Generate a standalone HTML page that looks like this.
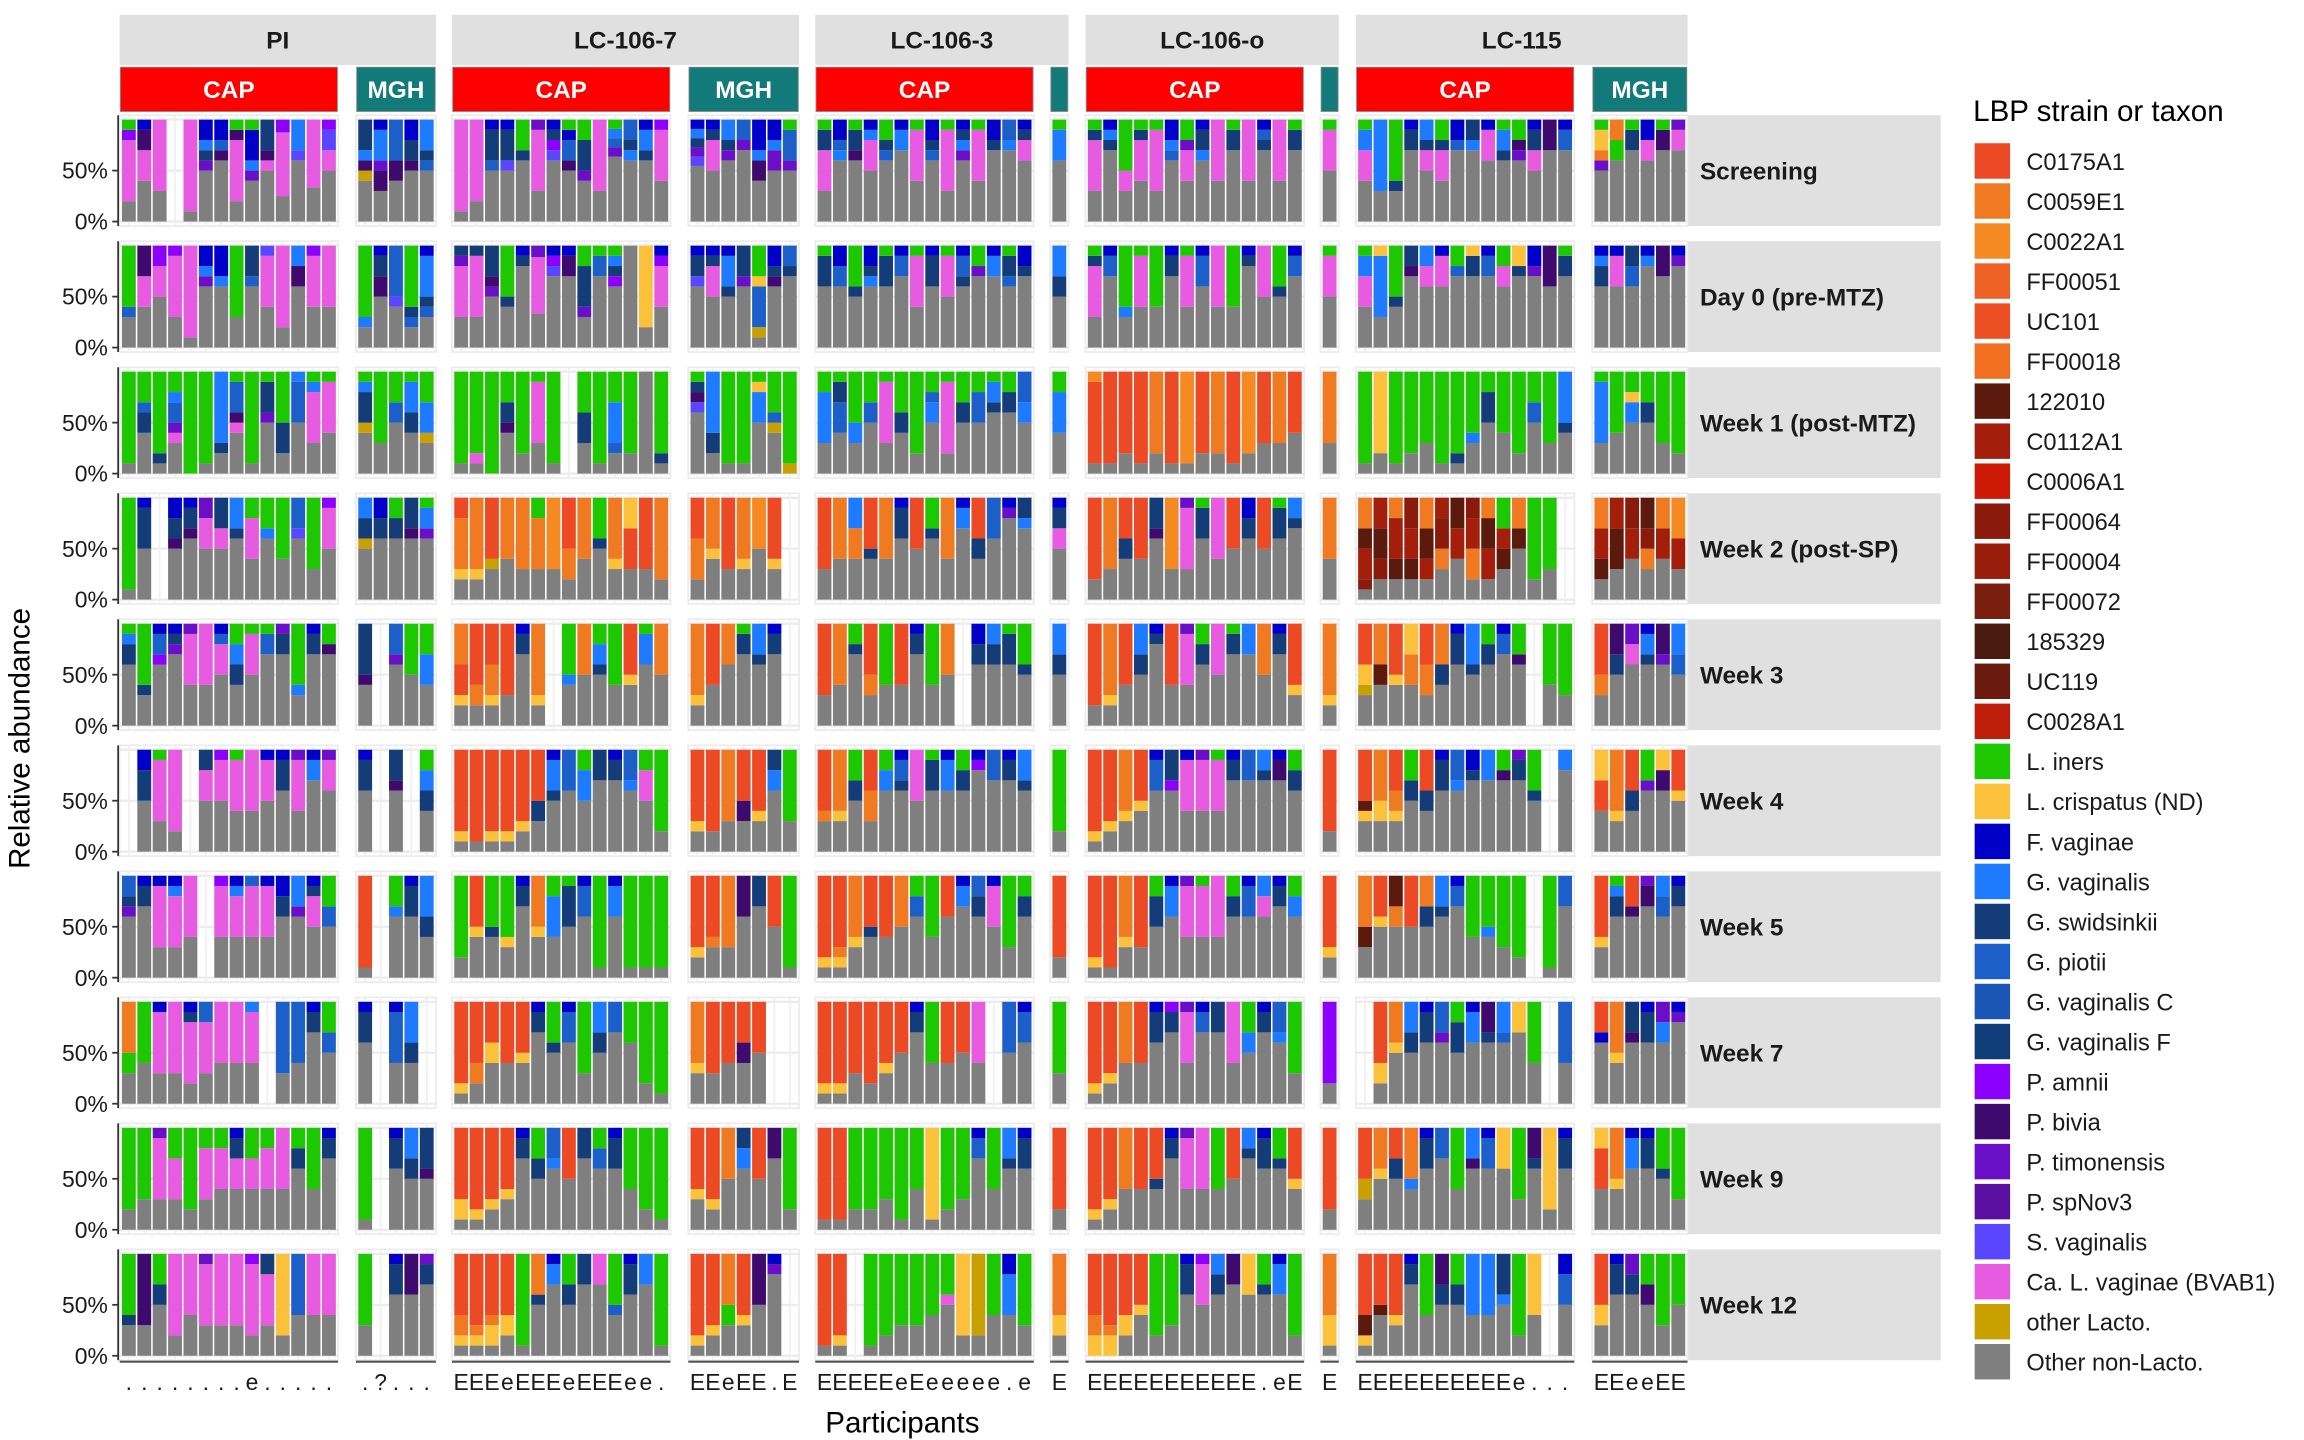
<!DOCTYPE html>
<html><head><meta charset="utf-8"><title>LBP strain relative abundance</title>
<style>
html,body{margin:0;padding:0;background:#fff;}
svg{display:block;font-family:"Liberation Sans",Arial,sans-serif;}
</style></head>
<body>
<svg id="chart" width="2304" height="1440" viewBox="0 0 1560 975" preserveAspectRatio="none" xmlns="http://www.w3.org/2000/svg">
<rect width="1560" height="975" fill="#fff"/>
<g id="panels"></g>
<g id="strips"></g>
<g id="legend"></g>
<text x="20" y="500" transform="rotate(-90 20 500)" text-anchor="middle" font-size="20" fill="#000">Relative abundance</text>
<text x="611" y="970" text-anchor="middle" font-size="20" fill="#000">Participants</text>
</svg>
<script>
// ---- data ----
const timepoints = ["Screening","Day 0 (pre-MTZ)","Week 1 (post-MTZ)","Week 2 (post-SP)","Week 3","Week 4","Week 5","Week 7","Week 9","Week 12"];
const groups = ["PI","LC-106-7","LC-106-3","LC-106-o","LC-115"];
const sites = ["CAP","MGH","CAP","MGH","CAP","MGH","CAP","MGH","CAP","MGH"];
const barCounts = [14,5,14,7,14,1,14,1,14,6];
const participantLabels = ["........e.....",".?...","EEEeEEEeEEEee.","EEeEE.E","EEEEEeEeeeee.e","E","EEEEEEEEEEE.eE","E","EEEEEEEEEEe...","EEeeEE"];
const legendNames = ["C0175A1","C0059E1","C0022A1","FF00051","UC101","FF00018","122010","C0112A1","C0006A1","FF00064","FF00004","FF00072","185329","UC119","C0028A1","L. iners","L. crispatus (ND)","F. vaginae","G. vaginalis","G. swidsinkii","G. piotii","G. vaginalis C","G. vaginalis F","P. amnii","P. bivia","P. timonensis","P. spNov3","S. vaginalis","Ca. L. vaginae (BVAB1)","other Lacto.","Other non-Lacto."];
const legendColors = ["#EB4A24","#F07A22","#F58A22","#EE6124","#EC5022","#F07020","#5C1A0C","#A41E0C","#CC1A06","#8A1A0C","#9A1C0A","#7A1E10","#4A1A10","#6A1A0E","#BC1E0A","#1EC800","#FBC13A","#0000C8","#1E7BFF","#133C78","#1C5FC8","#1A56B4","#103C7A","#8C00FF","#3E0A6E","#6A0FC8","#5A0FA0","#5A46FF","#E65BE0","#C8A000","#7F7F7F"];
// letter codes -> taxon
const taxonCodes = {r:"C0175A1",e:"C0059E1",c:"C0022A1",w:"122010",x:"C0112A1",z:"FF00064",g:"L. iners",y:"L. crispatus (ND)",f:"F. vaginae",b:"G. vaginalis",n:"G. swidsinkii",m:"G. piotii",v:"P. amnii",d:"P. bivia",t:"P. timonensis",s:"S. vaginalis",p:"Ca. L. vaginae (BVAB1)",o:"other Lacto.",k:"Other non-Lacto."};
// composition per row, per panel: bars top->bottom, segment letter + tenths
const row0 = ["g1v1p6k2 f1d2p3k4 p7k3 - p9k1 f2b1n1t1k5 f2m1d1k6 g1d1p6k2 g1f3b1t1k4 n3d1p1k5 v1p5k2 b3s1k6 p6k3 v1s2p2k5","n3b1d1o1k4 f1b3t1d2k3 m4d2k4 f2n2d1k5 b3n1m1k5","p9k1 p8k2 f1n3m1k5 f1n3s1k5 g3n1k6 t1p6k3 f1n1v1s1k6 g1f1m2d1k5 g2n3t1k4 p7k3 g1b1m1t1k7 m2n1b1k6 f1b2n1k6 v1p5k4","f1b1n1t1s1k6 f1n1p3k5 b2n1t1k6 m2t1k7 f3b1d2k4 f2b1t2k5 g1m3t1k5","g1n2p4k3 f2m1b1k6 g1n2d1k6 f1b1p3k5 g2n1m1k6 f1b2k7 g1p5k4 f2n1m1k6 g1p6k3 f1n1b1t1k6 g1p5k4 f2n1k7 m2b1k7 f1n1p2k6","g1b3k6","g1n1p5k3 f1b1n1k7 g5p2k3 g1n1p4k4 g1p6k3 f2b1m1k6 g2t1p3k4 f1n2b1k6 p6k4 g1n2k7 p6k4 f1m1n1k7 p6k4 g1n2k7","g1p4k5","g1b2p3k4 b7k3 g6n1k3 f1n2k7 b2n1p2k5 g2n1p3k4 f2m1k7 n2b1k7 f1p3k6 g1b2n1k6 g2d1t1k6 f1n2p2k5 d3k7 f1m2k7","g1y2e1t1k5 e2g2k6 g1n2k7 f2p2k6 g1d2k7 t1p2k7"];
const row1 = ["g6m1k3 d3p3k4 v2p3k5 v1p6k3 p9k1 f2b1t1k6 f3b1k6 g7k3 n3m1k6 s1p5k4 p8k2 b2d2k6 v1p5k4 p6k4","g7b1k2 f1n2d2k5 m5s1k4 g6n1m1k2 f1b4n1m1k3","n1t1p5k3 n1p6k3 n3d1t1k5 g5n1k4 f1n1k8 t1p5k3 f1v1s1k7 f1d2k7 g2n4t1k3 g1m2k7 g1b1n1v1k6 k10 y8k2 f1v1p4k4","f1n2s1k6 f1n1p3k5 f1b3n1k5 n3t1k6 g3y1m4o1k1 f2n1d1k6 m2n1k7","g1n3k6 f2m2k6 g4n1k5 f2n1b1k6 g1n3k6 f1m2k7 g1p5k4 f1n3k6 g1p4k5 f1m2n1k6 g2t1k7 f1b2k7 g1n2m1k6 f2n1k7","b3n2k5","g1n1p5k3 f1m2k7 g6b1k3 g1p5k4 g6k4 f1n2k7 g1p5k4 f1m3k6 p6k4 g6k4 f1n1k8 p5k5 g4n1k5 f1m2k7","g1p4k5","g1b2p3k4 y1b6k3 g5n1k4 n2d1k7 b2p2k6 f1p3k6 g2m1k7 y1n2k7 f1m2k7 g2p2k6 y2n1k7 f2t1k7 d4k6 g1n2k7","f1b1n2k6 f1p3k6 n2m2k6 f1b1k8 d3k7 f1t1k8"];
const row2 = ["g9k1 g3m1n2k4 g8n1k1 g2b1m2t1p1k3 g10 g9k1 b7n1k2 g1m3d1p1k4 g9k1 g1n3t1k5 g5n3k2 b1m4k5 g1b1p5k3 g1p5k4","g1b1n3o1k4 g7k3 g3m2k5 g1b3n2k4 g3b3o1k3","g9k1 g8p1k1 g10 g3n2d1k4 g8k2 g1p6k3 g9k1 - g4n3k3 g9k1 g3b4m1k2 g8k2 k10 g8n1k1","g1n1d1s1k6 b6n2k2 g9k1 g9k1 g1y1b3k5 g4m1o1k4 g9o1","g2b5k3 g1n2m3k4 g5b2k3 g3m2k5 g1p6k3 g4n2k4 g8k2 g2m1b2k5 g1p7k2 g3n2k5 g2m3k5 g1b2n1k6 g2n2k6 m3b2k5","g2b4k4","c1r8k1 r9k1 r8k2 r9k1 e8k2 r9k1 c9k1 r8k2 e8k2 r9k1 c8k2 r7k3 e7k3 r6k4","e7k3","g9k1 y8k2 g9k1 g8k2 g7k3 g9k1 g8n1k1 g6b1k3 g2n3k5 g6k4 g8k2 g3m2k5 g7k3 b5n1k4","g1b6k3 g6k4 g2y1b2k5 g3n2k5 g7k3 g8k2"];
const row3 = ["g9k1 f1n4k5 - f2n2d1k5 f1n2d1k6 t2p3k5 n3p2k5 b3n1k6 g2p4k4 g3b1k6 g6k4 m3s1k6 g7k3 v1p4k5","b2n2o1k5 f2n2k6 g2n2k6 n3d1k6 g1b2t1k6","r2e5y1k2 e7y1k2 r6o1k3 e6k4 e7k3 g2e5k3 c7k3 r5e3k2 e6k4 g4n1k5 e6y1k3 y3r4k3 r7k3 e8k2","r4e4k2 e5y1k4 r7k3 e6y1k3 c5k5 r6y1k3 -","r7k3 e6k4 b3e3k4 r5n1k4 e6k4 f1n3k6 r5k5 g3n1k6 e6k4 f1b2k7 r4n2k4 m4k6 f1t1k8 n2b1k7","f1n2p2k5","r8k2 e7k3 r4n2k4 r6k4 n3d1k6 c7k3 t1p6k3 g1n3k6 p6k4 r5k5 f2n2k6 r5k5 g1n3k6 b2n1k7","e6k4","e3w2x3z1k1 x3w3z2k2 e2x4w2k2 z3x3w2k2 e3w3x2k2 x2z3e2k3 w3x3k4 z2x3e3k2 e2w3x3k2 g3x2w2k3 e3w2k5 g8k2 g7k3 -","e3x3w2k2 x3w4k3 z3x3k4 w3z2e2k3 e3x3k4 c4x3k3"];
const row4 = ["g1b1n2k6 g6n1k3 f1m2v1k6 f1n1t1k7 t1p5k4 p6k4 f1m1p3k5 g2b2n2k4 g1p4k5 g1m2k7 t1n2k7 g6b1k3 f1n2k7 g2d1k7","n5d1k4 - m3t1k6 g5k5 g3b3k4","e4r3y1k2 r6e2k2 r4e3y1k2 r7k3 f1n2k7 e7y1k2 - g5b1k4 e5k5 g2b2n1k5 g6k4 r5y1k4 g1b3k6 e5k5","e7y1k2 r6k4 e4k6 g1n2k7 b3n1k6 f1n2k7 -","r7k3 e6k4 g2n1k7 r5e2k3 g6k4 r6k4 f1n2k7 g6k4 e5k5 - f2n2k6 b2n2k6 g1n3k6 g4n1k5","b3n2k5","r8k2 e7y1k2 r6k4 b3n2k5 f1n1k8 r6k4 t1p5k4 g2n2k6 p5k5 g1n2k7 b3k7 e5k5 f1n2k7 r6y1k3","e7y1k2","r4y2o1k3 e4w2k4 r5y1k4 y3e3k4 r4e3k3 e4n2k4 f1n3k6 b4n1k5 g2n2k6 f1m2k7 g3d1k6 - g6k4 g7k3","r5e2k3 d3n2k5 t2p2k6 f1b2n1k6 d3t1k6 b3m2k5"];
const row5 = ["- f2n3k5 g1p6k3 p8k2 - n2p3k5 v1p4k5 g1p5k4 p6k4 f1p4k5 f1n3k6 t1p5k4 f1b2k7 t1p3k6","f1n3k6 - n3d1k6 - g2b2n2k4","r8y1k1 r9k1 r8y1k1 r8y1k1 r7y1k2 r5n2k3 f1b3n1k5 m4k6 g2b3k5 n3k7 f1n2k7 m3b1k6 g2p3k5 g8k2","r7y1k2 r8k2 e7k3 r5d2k3 r6y1k3 n2b2k6 g7k3","r6e1k3 e6y1k3 g3n2k5 r4e3k3 g2b2k6 f1m2n1k6 p5k5 g1n3k6 f1b3k6 g2n2k6 f1v1k8 m3k7 f1n2k7 b3n1k6","g8k2","r8y1k1 r7y1k2 e6y1k3 r5y1k4 f1m3k6 n3v1k6 f1p5k4 t1p5k4 g1p5k4 f1n2k7 m3k7 b2n1k7 f1d2k7 g2n2k6","r8k2","r5w1y1k3 e5y2k3 r4e2y1k3 g3n2k5 r4n2k4 f1n3k6 m3b1k6 f2n1k7 b3k7 g2d1k7 t1n2k7 g4n1k5 - b2k8","y3r3k4 e6y1k3 r4n2k4 g3t1k6 y2d2k6 r4y1k5"];
const row6 = ["m2n1t1k6 f1n2k7 f1p6k3 f1b1p5k3 p6k4 - v1p5k4 f1b1p4k4 m1p5k4 f1p5k4 f2n2k6 b3t1k6 f1n1p3k5 g3m2k5","r9k1 - g3b1k6 f1n3k6 b4n2k4","g8k2 r5y1k4 g5n1k4 g6y1k3 f1n2k7 e5y1k4 g2b4k4 g1n4k5 f1m3k6 g9k1 f1b3k6 g9k1 g9k1 g9k1","r7y1k2 r6e1k3 e7k3 d4k6 n3k7 r5k5 g9k1","r8y1k1 r7e1y1k1 e6y1k3 r5n1k4 r6k4 e5k5 g2m2k6 g6k4 r4k6 f1b2k7 m2n2k6 f1p4k5 g7k3 g2n2k6","r8k2","r8y1k1 r9k1 e6y1k3 r7k3 g2n3k5 f1b3k6 t1p5k4 g1p5k4 p6k4 g2n2k6 f1m3k6 b2p2k6 f1n2k7 g2b2k6","r7y1k2","e5w2k3 r4y1k5 w3e2k5 r5k5 e3n2k5 b3n1k6 f1m2k7 g6k4 g5b1k4 g7k3 g8k2 - g9k1 m3k7","r6y1k3 g1b1n2k6 r3d1k6 t1d2k7 b2m2k6 f1n2k7"];
const row7 = ["e5g2k3 g6k4 f1p6k3 p7k3 f1n1p6k2 m2p5k3 p6k4 p6k4 b1p5k4 - m7k3 m6k4 f1n2k7 g3m2k5","f1n3k6 - f1m5k4 b4n2k4 -","r8y1k1 r6e2k2 r4y2k4 r6k4 r5y1k4 f1n2k7 g4n1k5 f1m3k6 g7k3 b3n2k5 m3k7 g4k6 g8k2 g9k1","e6y1k3 r7k3 r6k4 r4d2k4 r5k5 - -","r8y1k1 r8y1k1 r7k3 r8k2 r6y1k3 r5k5 f1n2k7 g6k4 r6k4 r5k5 p6k4 - m5k5 f1m3k6","g7k3","r8y1k1 r7y1k2 e6k4 r6k4 f1n3k6 v1n2k7 t1p5k4 f1m2k7 n3k7 p6k4 g3b2k5 f1n2k7 m3b1k6 g7k3","v8k2","- r6y2k2 e4y1k5 b3n2k5 f1n3k6 m3t1k6 g2n3k5 f1b3k6 d3n1k6 b3m1k6 y3k7 g6k4 - m6k4","r3f1k6 e5y1k4 n3d1k6 f1n3k6 t2b2k6 f1t1k8"];
const row8 = ["g8k2 g7k3 t1p6k3 g3p4k3 g8k2 g2p5k3 g2p4k4 f1n2p3k4 g3p3k4 g2p4k4 p6k4 g2n2k6 g6k4 f1n2k7","g9k1 - f1n3k6 b3n2k5 n4d1k5","r7y2k1 r8y1k1 r7y1k2 r6y1k3 f1n2k7 g3n2k5 m3b1k6 r5k5 n3k7 g2m2k6 f1n3k6 g6k4 g8k2 g9k1","r6y1k3 r7y1k2 e5k5 n2b2k6 r5k5 d3k7 g8k2","r9k1 r9k1 g8k2 g8k2 g7k3 g9k1 g6k4 y9k1 g8k2 g7k3 f1m2k7 g6k4 b3n1k6 f1n3k6","r8k2","r8y1k1 r7y1k2 e6k4 r6k4 r5n1k4 f1n2k7 t1p5k4 p6k4 g6k4 r5k5 b2n1k7 f1n3k6 g3n1k6 r5y1k4","r8k2","r5o2k3 e4y1k5 r3n2k5 e5b1k4 f1n3k6 m3k7 g6k4 b3d1k6 f1m3k6 y4k6 g7k3 d3n1k6 y8k2 f1n3k6","y2r4k4 e5y1k4 f1b3k6 f1n3k6 g4n1k5 g7k3"];
const row9 = ["g6n1k3 d7k3 g3n2k5 p8k2 p6k4 t1p6k3 p7k3 p7k3 v1p7k2 n2p5k3 y8k2 m6k4 p6k4 p6k4","g7k3 - f1n3k6 d4k6 t1n2k7","r6e2y1k1 r7e1y1k1 r6e1y2k1 r6y2k2 g9k1 e4n1k5 f1b2k7 g3n2k5 n3k7 p3k7 g5m1k4 f1n3k6 b3k7 g9k1","r8y1k1 r7y1k2 e5g2k3 r6y1k3 d5k5 f1t1k8 -","r9k1 r8y1k1 - g9k1 g8k2 g7k3 g7k3 g6k4 g4p1k5 y8k2 o8k2 g6k4 f2b4k4 g7k3","e6y2k2","r6e2y2 r7e1y2 r6y2k2 r5y1k4 g8k2 g7k3 f1n3k6 v1p4k5 b2n2k6 d3k7 y4k6 g3n1k6 f1b3k6 g8k2","e6y3k1","r6w2y1k1 r5w1k4 r6y1k3 f1n2k7 g6k4 d3n2k5 g3n2k5 b6k4 b6k4 n4b1k5 g8k2 y6k4 - f2m3k5","r5y2k3 f1n3k6 t2n2k6 g3d2k5 g7k3 g5k5"];
const rows = [row0,row1,row2,row3,row4,row5,row6,row7,row8,row9];

// ---- layout ----
const NS="http://www.w3.org/2000/svg";
const unit=10.42;
const panelX=[81,241,306,466,552,711,735,894,918,1078];
const groupPanels=[[0,1],[2,3],[4,5],[6,7],[8,9]];
const rowStep=85.33, base0=150, plotH=69;
const colorOf={}; legendNames.forEach((n,i)=>colorOf[n]=legendColors[i]);
function mk(tag,attrs,parent){const e=document.createElementNS(NS,tag);for(const k in attrs)e.setAttribute(k,attrs[k]);parent.appendChild(e);return e;}
function yScale(row,v){return base0+row*rowStep - v*plotH;}
function xBar(panel,j){return panelX[panel]+(0.6+j)*unit;}
function pw(panel){return (barCounts[panel]+0.2)*unit;}
function parseBar(code){if(code==="-")return [];const segs=[];const re=/([a-z])(\d+)/g;let m;while((m=re.exec(code)))segs.push([m[1],+m[2]]);return segs;}

const gP=document.getElementById('panels');
rows.forEach((row,ri)=>{
  const base=yScale(ri,0), top=yScale(ri,1);
  for(let p=0;p<10;p++){
    const x0=panelX[p], w=pw(p);
    const bg=mk('rect',{x:x0,y:top-3,width:w,height:base-top+6,fill:'#fff',stroke:'#ececec','stroke-width':1.2},gP);
    
    
    [0,0.5,1].forEach(v=>{const ln=mk('line',{x1:x0,x2:x0+w,y1:yScale(ri,v),y2:yScale(ri,v),stroke:'#ebebeb','stroke-width':1.5},gP);
      
      });
    const bars=row[p].split(' ');
    for(let j=0;j<barCounts[p];j++){
      const cx=xBar(p,j);
      const vl=mk('line',{x1:cx,x2:cx,y1:top-3,y2:base+3,stroke:'#f0f0f0','stroke-width':1.2},gP);
      
      
      const segs=parseBar(bars[j]||"-");
      const tot=segs.reduce((a,s)=>a+s[1],0);
      let cum=0;
      const g=mk('g',{},gP);
      
      
      for(let s=segs.length-1;s>=0;s--){
        const v=segs[s][1]/tot;
        if(v<=0)continue;
        const y1=yScale(ri,cum), y2=yScale(ri,cum+v);
        const r=mk('rect',{x:cx-0.45*unit,y:y2,width:0.9*unit,height:y1-y2,fill:colorOf[taxonCodes[segs[s][0]]]},g);
        
        
        cum+=v;
      }
    }
  }
  // y axis
  const ax=mk('line',{x1:80,x2:80,y1:top-3,y2:base+3,stroke:'#333','stroke-width':1.2},gP);
  
  
  [[0.5,'50%'],[0,'0%']].forEach(([v,l])=>{
    const tk=mk('line',{x1:76,x2:80,y1:yScale(ri,v),y2:yScale(ri,v),stroke:'#333','stroke-width':1.2},gP);
    
    
    const t=mk('text',{x:73,y:yScale(ri,v)+5.5,'text-anchor':'end','font-size':15.5,fill:'#1a1a1a'},gP);
    t.textContent=l;
    
    
  });
  // right strip
  const rs=mk('rect',{x:1143,y:top-3,width:171,height:base-top+6,fill:'#e0e0e0'},gP);
  
  
  const rt=mk('text',{x:1151,y:(top+base)/2+6,'font-size':16.5,'font-weight':'bold',fill:'#1a1a1a'},gP);
  rt.textContent=timepoints[ri];
  
  
});
// bottom axis + participant labels
const lastBase=yScale(9,0)+3;
for(let p=0;p<10;p++){
  const bl=mk('line',{x1:panelX[p],x2:panelX[p]+pw(p),y1:lastBase+1,y2:lastBase+1,stroke:'#555','stroke-width':1.5},gP);
  
  
  for(let j=0;j<barCounts[p];j++){
    const t=mk('text',{x:xBar(p,j),y:941,'text-anchor':'middle','font-size':15.5,fill:'#1a1a1a'},gP);
    t.textContent=participantLabels[p][j]||'';
    
    
  }
}
// top strips
const gS=document.getElementById('strips');
groupPanels.forEach((gp,gi)=>{
  const x0=panelX[gp[0]], x1=panelX[gp[1]]+pw(gp[1]);
  const r=mk('rect',{x:x0,y:10,width:x1-x0,height:34,fill:'#e0e0e0'},gS);
  
  
  const t=mk('text',{x:(x0+x1)/2,y:33,'text-anchor':'middle','font-size':16.5,'font-weight':'bold',fill:'#1a1a1a'},gS);
  t.textContent=groups[gi];
  
  
  gp.forEach(p=>{
    const c=sites[p]==='CAP'?'#FF0000':'#127A78';
    const sr=mk('rect',{x:panelX[p]+0.5,y:45.5,width:pw(p)-1,height:30,fill:c,stroke:'#8a8a8a','stroke-width':0.6},gS);
    
    
    if(pw(p)>30){
      const st=mk('text',{x:panelX[p]+pw(p)/2,y:66.5,'text-anchor':'middle','font-size':16.5,'font-weight':'bold',fill:'#fff'},gS);
      st.textContent=sites[p];
      
      
    }
  });
});
// legend
const gL=document.getElementById('legend');
const lt=mk('text',{x:1336,y:82,'font-size':20,fill:'#000'},gL);
lt.textContent='LBP strain or taxon';


legendNames.forEach((n,i)=>{
  const y=109+i*27.1;
  const g=mk('g',{},gL);
  
  
  const k=mk('rect',{x:1337,y:y-12,width:24,height:24,fill:legendColors[i]},g);
  
  
  const t=mk('text',{x:1372,y:y+6,'font-size':16,fill:'#1a1a1a'},g);
  t.textContent=n;
  
  
});
</script>
</body></html>
